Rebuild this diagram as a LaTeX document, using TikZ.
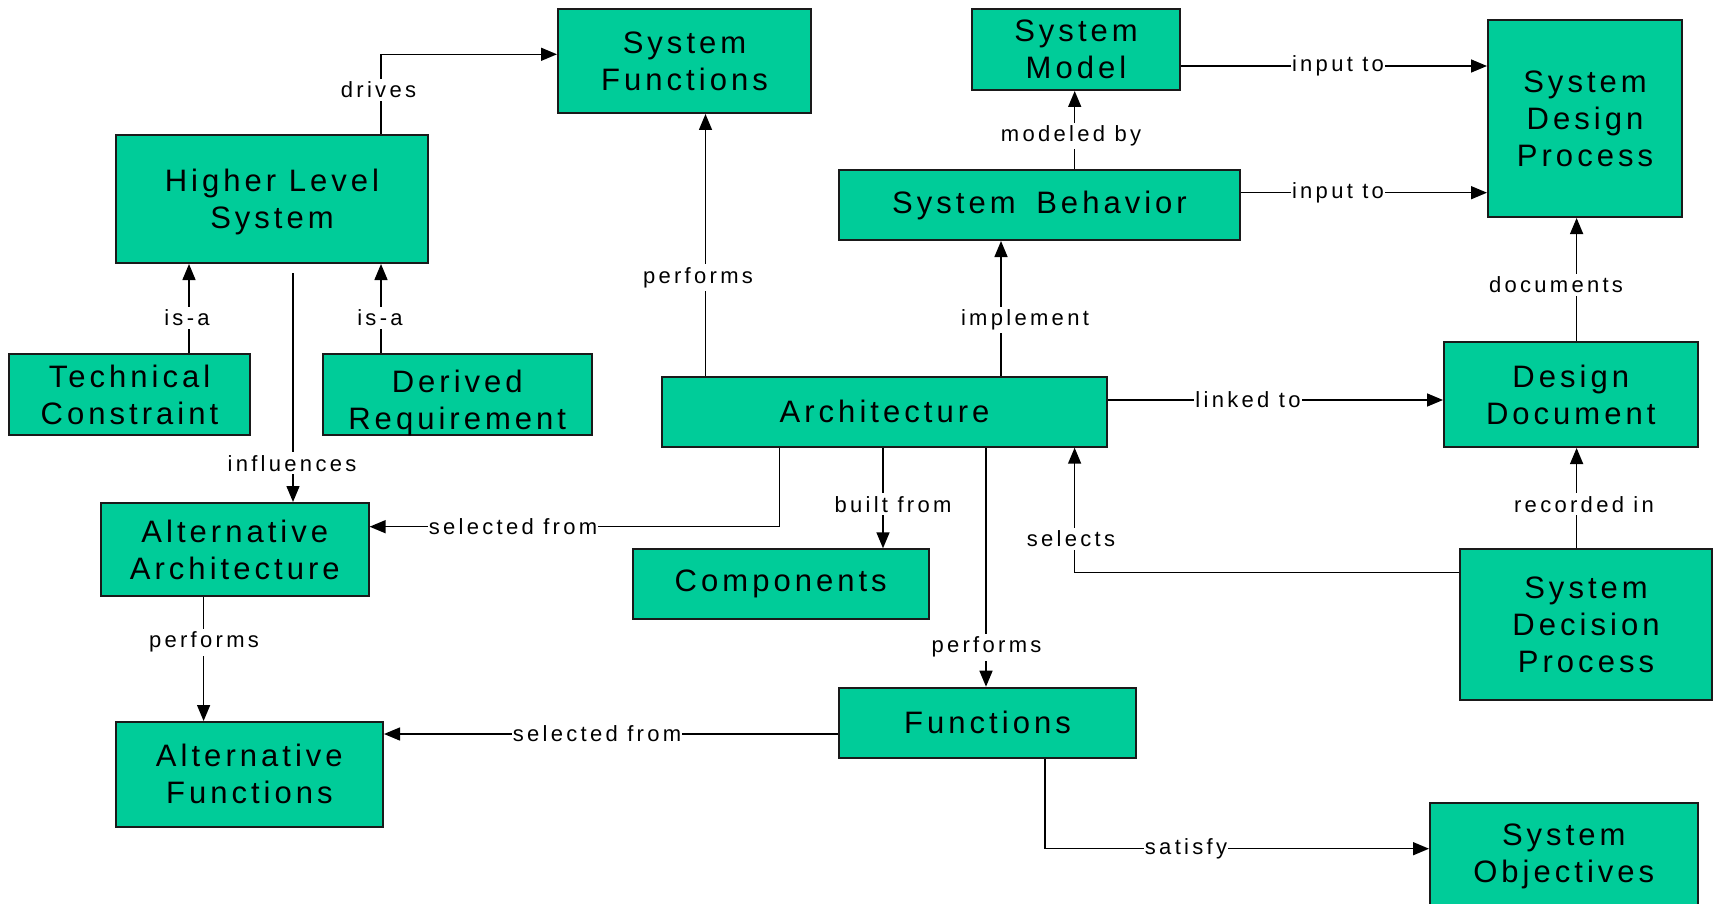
\documentclass[tikz,border=0pt]{standalone}
\usepackage{fontspec}
\usetikzlibrary{arrows.meta}
\newfontfamily\boxfont{Liberation Sans}[LetterSpace=13]
\newfontfamily\labfont{Liberation Sans}[LetterSpace=15]
\definecolor{boxgreen}{HTML}{00CC99}
\definecolor{edgeline}{HTML}{1A1A1A}
\tikzset{
  boxtext/.style={inner sep=0pt, align=center, font=\boxfont\fontsize{31}{37}\selectfont},
  box/.style={boxtext, draw=edgeline, line width=2pt, fill=boxgreen},
  lab/.style={fill=white, inner xsep=1pt, inner ysep=3pt,
    font=\labfont\fontsize{22}{26}\selectfont},
  arr/.style={line width=1.5pt, draw=black, -{Triangle[length=16pt,width=13pt]}}
}
\begin{document}
\begin{tikzpicture}[x=1pt, y=-1pt]
\useasboundingbox (0,0) rectangle (1713,904);

% concept boxes
\node[box, minimum width=253pt, minimum height=104pt] (sf) at (684.5,61) {System\\Functions};
\node[box, minimum width=312pt, minimum height=128pt] (hls) at (272,199) {};
\node[boxtext] (hls-text) at (272,202) {Higher Level\\System};
\node[box, minimum width=241pt, minimum height=81pt] (tc) at (129.5,394.5) {Technical\\Constraint};
\node[box, minimum width=269.5pt, minimum height=81pt] (dr) at (457.25,394.5) {};
\node[boxtext] (dr-text) at (457.25,402.5) {Derived\\Requirement};
\node[box, minimum width=445pt, minimum height=70pt] (arch) at (884.5,411.7) {Architecture};
\node[box, minimum width=208pt, minimum height=81pt] (sm) at (1076,49.5) {System\\Model};
\node[box, minimum width=401pt, minimum height=70pt] (sb) at (1039.5,205) {System\hspace{8pt} Behavior};
\node[box, minimum width=194pt, minimum height=197pt] (sdp) at (1585,118.5) {System\\Design\\Process};
\node[box, minimum width=253.5pt, minimum height=105pt] (dd) at (1570.75,394.5) {Design\\Document};
\node[box, minimum width=267.6pt, minimum height=93pt] (aa) at (234.8,549.5) {Alternative\\Architecture};
\node[box, minimum width=296.5pt, minimum height=70pt] (comp) at (780.75,584.3) {Components};
\node[box, minimum width=252pt, minimum height=150.7pt] (sdecp) at (1586,624.7) {System\\Decision\\Process};
\node[box, minimum width=297pt, minimum height=70pt] (func) at (987.5,722.7) {Functions};
\node[box, minimum width=267.3pt, minimum height=104.7pt] (af) at (249.35,774.35) {Alternative\\Functions};
\node[box, minimum width=267.5pt, minimum height=107pt] (so) at (1563.75,856.5) {System\\Objectives};

% free start of the influence link
\coordinate (infl) at (293,273);

% connectors
\draw[arr] ([xshift=266pt]hls.north west) |- ([yshift=6.7pt]sf.west);
\draw[arr] ([xshift=44.5pt]arch.north west) -- ([xshift=44.5pt]arch.north west |- sf.south);
\draw[arr] ([xshift=181pt]tc.north west) -- ([xshift=181pt]tc.north west |- hls.south);
\draw[arr] ([xshift=59.5pt]dr.north west) -- ([xshift=59.5pt]dr.north west |- hls.south);
\draw[arr] (infl) -- (infl |- aa.north);
\draw[arr] ([xshift=118.6pt]arch.south west) |- ([yshift=22.8pt]aa.east);
\draw[arr] ([xshift=222pt]arch.south west) -- ([xshift=222pt]arch.south west |- comp.north);
\draw[arr] ([xshift=325pt]arch.south west) -- ([xshift=325pt]arch.south west |- func.north);
\draw[arr] ([yshift=52.4pt]sdecp.west) -| ([xshift=413.6pt]arch.south west);
\draw[arr] ([xshift=117.6pt]sdecp.north west) -- ([xshift=117.6pt]sdecp.north west |- dd.south);
\draw[arr] ([xshift=133.6pt]dd.north west) -- ([xshift=133.6pt]dd.north west |- sdp.south);
\draw[arr] ([yshift=11.7pt]arch.east) -- ([yshift=11.7pt]arch.east -| dd.west);
\draw[arr] ([yshift=-16.5pt]sm.east) -- ([yshift=-16.5pt]sm.east -| sdp.west);
\draw[arr] ([yshift=12.3pt]sb.east) -- ([yshift=12.3pt]sb.east -| sdp.west);
\draw[arr] ([xshift=236.7pt]sb.north west) -- ([xshift=236.7pt]sb.north west |- sm.south);
\draw[arr] ([xshift=340pt]arch.north west) -- ([xshift=340pt]arch.north west |- sb.south);
\draw[arr] ([yshift=-11.3pt]func.west) -- ([yshift=-11.3pt]func.west -| af.east);
\draw[arr] ([xshift=103.6pt]aa.south west) -- ([xshift=103.6pt]aa.south west |- af.north);
\draw[arr] ([xshift=207pt]func.south west) |- ([yshift=7.8pt]so.west);

% link labels
\node[lab] (l-drives) at (378.5,90) {drives};
\node[lab] (l-perf1) at (698,277.7) {performs};
\node[lab] (l-isa1) at (187,318) {is-a};
\node[lab] (l-isa2) at (380,318) {is-a};
\node[lab] (l-infl) at (292,463.3) {influences};
\node[lab] (l-sel1) at (513,526.7) {selected from};
\node[lab] (l-built) at (893,504.3) {built from};
\node[lab] (l-perf2) at (986.5,647.3) {performs};
\node[lab] (l-selects) at (1071,538.7) {selects};
\node[lab] (l-rec) at (1584,504.3) {recorded in};
\node[lab] (l-docs) at (1556,285) {documents};
\node[lab] (l-linked) at (1248,400) {linked to};
\node[lab] (l-in1) at (1338,66) {input to};
\node[lab] (l-in2) at (1338,192.7) {input to};
\node[lab] (l-model) at (1071,136) {modeled by};
\node[lab] (l-impl) at (1025,320) {implement};
\node[lab] (l-sel2) at (597,734) {selected from};
\node[lab] (l-perf3) at (204,642.3) {performs};
\node[lab] (l-sat) at (1186,848.7) {satisfy};
\end{tikzpicture}
\end{document}
